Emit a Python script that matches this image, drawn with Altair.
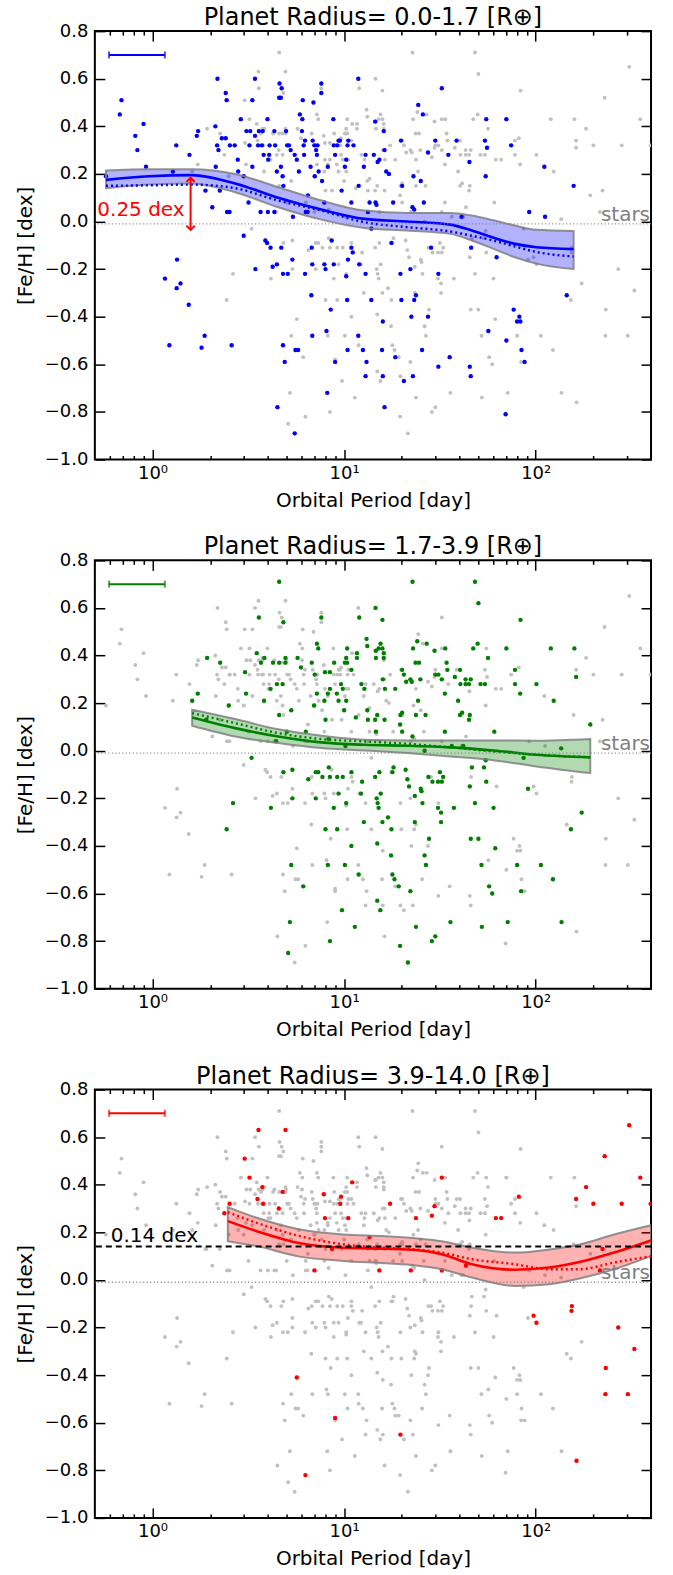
import altair as alt
import numpy as np
import pandas as pd

FONT = "DejaVu Sans"

# ---------------- data: (log10 orbital period [day], [Fe/H] [dex]) ----------------
# planets with radius 0.0-1.7 R_earth (blue, top panel)
blue_points = [
    (-0.243, 0.19), (-0.162, 0.51), (-0.171, 0.45), (-0.09, 0.36), (-0.079, 0.30), (-0.047, 0.41),
    (-0.034, 0.23), (0.106, 0.21), (0.124, 0.32), (0.193, 0.28), (0.231, 0.36), (0.238, 0.38),
    (0.276, 0.13), (0.312, 0.06), (0.328, 0.40), (0.337, 0.32), (0.344, 0.30), (0.33, 0.23),
    (0.339, 0.60), (0.351, 0.13), (0.362, 0.35), (0.382, 0.35), (0.382, 0.54), (0.387, 0.51),
    (0.389, 0.04), (0.402, 0.04), (0.404, 0.32), (0.429, 0.32), (0.445, 0.26), (0.447, 0.21),
    (0.461, 0.43), (0.476, 0.19), (0.49, 0.38), (0.501, 0.08), (0.51, 0.38), (0.506, 0.32),
    (0.521, 0.51), (0.521, 0.23), (0.535, 0.60), (0.535, 0.36), (0.551, 0.32), (0.555, 0.38),
    (0.571, 0.32), (0.575, 0.38), (0.58, 0.28), (0.564, 0.04), (0.6, 0.43), (0.602, 0.04),
    (0.604, 0.26), (0.609, 0.28), (0.611, 0.32), (0.636, 0.04), (0.636, 0.38), (0.64, 0.32),
    (0.649, 0.21), (0.663, 0.58), (0.661, 0.52), (0.67, 0.52), (0.674, 0.56), (0.67, 0.23),
    (0.679, 0.19), (0.683, 0.15), (0.697, 0.38), (0.703, 0.32), (0.712, 0.32), (0.721, 0.30),
    (0.733, 0.02), (0.742, 0.28), (0.753, 0.26), (0.764, 0.21), (0.769, 0.45), (0.78, 0.38),
    (0.784, 0.51), (0.782, 0.43), (0.789, 0.32), (0.791, 0.28), (0.796, 0.34), (0.8, 0.04),
    (0.809, 0.04), (0.811, 0.11), (0.825, 0.23), (0.836, 0.34), (0.84, 0.50), (0.845, 0.32),
    (0.847, 0.19), (0.854, 0.30), (0.858, 0.28), (0.861, 0.32), (0.867, 0.21), (0.881, 0.58),
    (0.881, 0.54), (0.885, 0.17), (0.897, 0.08), (0.915, 0.23), (0.944, 0.43), (0.946, 0.32),
    (0.953, 0.28), (0.964, 0.32), (0.971, 0.34), (0.978, 0.34), (0.987, 0.13), (1.004, 0.23),
    (1.011, 0.26), (1.018, 0.32), (1.022, 0.34), (1.038, 0.08), (1.049, 0.32), (1.074, 0.60),
    (1.076, 0.15), (1.103, 0.23), (1.112, 0.28), (1.124, 0.04), (1.133, 0.08), (1.142, -0.03),
    (1.155, 0.28), (1.162, 0.42), (1.164, 0.08), (1.169, 0.07), (1.175, 0.25), (1.184, 0.26),
    (1.207, 0.38), (1.211, 0.30), (1.22, 0.21), (1.234, 0.20), (1.256, 0.08), (1.297, 0.34),
    (1.303, 0.15), (1.357, 0.06), (1.362, 0.19), (1.366, 0.05), (1.387, 0.49), (1.4, 0.17),
    (1.411, 0.45), (1.416, 0.08), (1.438, 0.29), (1.476, 0.34), (1.51, 0.56), (1.544, 0.28),
    (1.587, 0.34), (1.613, 0.02), (1.654, 0.25), (1.735, 0.34), (1.742, 0.43), (1.746, 0.31),
    (1.739, 0.19), (1.847, 0.43), (1.872, 0.32), (1.966, 0.04), (2.045, 0.23), (2.049, 0.02),
    (2.198, 0.15),
    (0.128, -0.16), (0.476, -0.06), (0.589, -0.08), (0.598, -0.09), (0.616, -0.11), (0.672, -0.11),
    (0.73, -0.16), (0.831, -0.11), (0.935, -0.08), (1.02, -0.16), (1.038, -0.11), (1.045, -0.13),
    (1.247, -0.09), (1.454, -0.11), (1.663, -0.11), (1.796, -0.15),
    (0.065, -0.24), (0.088, -0.52), (0.126, -0.28), (0.146, -0.26), (0.189, -0.35), (0.256, -0.53),
    (0.272, -0.48), (0.413, -0.52), (0.537, -0.20), (0.627, -0.19), (0.649, -0.18), (0.652, -0.78),
    (0.681, -0.22), (0.706, -0.22), (0.681, -0.52), (0.69, -0.59), (0.742, -0.89), (0.746, -0.54),
    (0.76, -0.54), (0.796, -0.22), (0.829, -0.31), (0.834, -0.18), (0.834, -0.48), (0.897, -0.18),
    (0.903, -0.20), (0.908, -0.46), (0.912, -0.72), (0.93, -0.37), (0.946, -0.18), (0.953, -0.59),
    (1.011, -0.23), (1.016, -0.33), (1.018, -0.54), (1.074, -0.48), (1.079, -0.18), (1.098, -0.54),
    (1.112, -0.22), (1.117, -0.59), (1.112, -0.65), (1.142, -0.33), (1.202, -0.42), (1.198, -0.54),
    (1.202, -0.65), (1.211, -0.78), (1.267, -0.57), (1.294, -0.22), (1.299, -0.33), (1.312, -0.67),
    (1.346, -0.20), (1.351, -0.40), (1.359, -0.65), (1.366, -0.33), (1.375, -0.31), (1.407, -0.54),
    (1.438, -0.40), (1.492, -0.22), (1.492, -0.61), (1.551, -0.57), (1.656, -0.61), (1.661, -0.65),
    (1.753, -0.46), (1.843, -0.81), (1.847, -0.50), (1.885, -0.37), (1.903, -0.42), (1.915, -0.40),
    (1.92, -0.42), (1.926, -0.54), (1.942, -0.59), (2.162, -0.31),
]

# planets with radius 1.7-3.9 R_earth (green, middle panel)
green_points = [
    (0.661, 0.71), (1.357, 0.71), (1.683, 0.71), (1.701, 0.62), (1.164, 0.60), (0.555, 0.56),
    (0.881, 0.56), (1.079, 0.56), (0.683, 0.54), (1.2, 0.55), (1.921, 0.55), (1.117, 0.47),
    (1.121, 0.44), (1.19, 0.45), (1.2, 0.43), (1.207, 0.41), (1.18, 0.43), (0.858, 0.45),
    (0.865, 0.43), (1.016, 0.43), (1.36, 0.43), (1.382, 0.46), (1.431, 0.45), (1.472, 0.42),
    (1.528, 0.43), (1.674, 0.43), (1.697, 0.45), (1.847, 0.43), (2.079, 0.43), (2.202, 0.43),
    (2.211, 0.31), (0.285, 0.39), (0.353, 0.37), (0.483, 0.33), (0.544, 0.41), (0.584, 0.39),
    (0.566, 0.37), (0.629, 0.37), (0.661, 0.37), (0.694, 0.39), (0.757, 0.39), (0.694, 0.37),
    (0.775, 0.35), (0.831, 0.37), (0.847, 0.32), (0.9, 0.33), (0.926, 0.33), (0.948, 0.37),
    (1.004, 0.37), (1.016, 0.37), (1.011, 0.39), (1.067, 0.39), (1.067, 0.41), (1.038, 0.34),
    (1.166, 0.42), (1.207, 0.39), (1.166, 0.39), (1.303, 0.34), (1.312, 0.32), (1.324, 0.29),
    (1.346, 0.30), (1.353, 0.29), (1.373, 0.37), (1.391, 0.37), (1.398, 0.30), (1.476, 0.32),
    (1.492, 0.32), (1.51, 0.30), (1.535, 0.37), (1.539, 0.34), (1.578, 0.31), (1.605, 0.34),
    (1.607, 0.28), (1.634, 0.30), (1.661, 0.30), (1.634, 0.28), (1.652, 0.28), (1.712, 0.28),
    (1.735, 0.28), (1.751, 0.39), (1.892, 0.34), (1.892, 0.28), (2.004, 0.28), (2.094, 0.21),
    (1.919, 0.24), (0.236, 0.24), (0.207, 0.21), (0.398, 0.19), (0.488, 0.24), (0.582, 0.21),
    (0.616, 0.26), (0.649, 0.28), (0.679, 0.28), (0.661, 0.15), (0.724, 0.17), (0.843, 0.19),
    (0.858, 0.24), (0.897, 0.21), (0.926, 0.26), (0.915, 0.24), (0.962, 0.24), (0.984, 0.28),
    (0.993, 0.26), (1.0, 0.17), (0.903, 0.13), (0.971, 0.21), (1.011, 0.21), (1.09, 0.28),
    (1.106, 0.26), (1.121, 0.17), (1.061, 0.14), (1.124, 0.13), (1.162, 0.13), (1.173, 0.15),
    (1.213, 0.26), (1.267, 0.26), (1.202, 0.30), (1.211, 0.13), (1.166, 0.08), (1.294, 0.15),
    (1.303, 0.16), (1.292, 0.11), (1.303, 0.08), (1.357, 0.06), (1.375, 0.15), (1.386, 0.21),
    (1.425, 0.15), (1.526, 0.24), (1.526, 0.08), (1.595, 0.21), (1.605, 0.15), (1.616, 0.16),
    (1.656, 0.15), (1.652, 0.13), (1.784, 0.08), (2.285, 0.11), (2.133, 0.01), (1.937, -0.03),
    (1.622, 0.02), (1.562, 0.02), (1.42, 0.00), (1.007, 0.02), (0.645, 0.04), (0.8, 0.08),
    (0.701, 0.08), (0.517, -0.03), (0.281, 0.13), (0.919, 0.05), (1.739, -0.04), (1.73, -0.07),
    (1.667, -0.07), (1.5, -0.09), (1.44, -0.11), (1.49, -0.13), (1.51, -0.13), (1.321, -0.08),
    (1.258, -0.07), (1.252, -0.09), (1.184, -0.09), (0.92, -0.07), (0.865, -0.09), (0.852, -0.09),
    (0.73, -0.08), (0.683, -0.09), (0.813, -0.12), (0.887, -0.11), (0.926, -0.11), (0.964, -0.11),
    (0.993, -0.11), (1.038, -0.09), (1.094, -0.13), (1.162, -0.11), (1.33, -0.12), (1.461, -0.13),
    (1.517, -0.11), (1.656, -0.15), (1.742, -0.13), (1.96, -0.16), (1.339, -0.15), (1.4, -0.16),
    (0.73, -0.20), (0.852, -0.20), (0.971, -0.18), (1.011, -0.22), (1.088, -0.18), (1.17, -0.20),
    (1.175, -0.22), (1.18, -0.24), (1.191, -0.18), (1.369, -0.19), (1.404, -0.17), (1.409, -0.22),
    (1.683, -0.22), (0.42, -0.22), (0.618, -0.24), (0.946, -0.24), (1.49, -0.24), (1.506, -0.26),
    (1.573, -0.24), (1.78, -0.24), (2.24, -0.26), (2.184, -0.33), (0.387, -0.33), (0.903, -0.33),
    (0.964, -0.33), (1.103, -0.30), (1.2, -0.30), (1.229, -0.28), (1.247, -0.33), (1.369, -0.30),
    (1.506, -0.30), (1.443, -0.37), (1.661, -0.37), (1.701, -0.37), (1.038, -0.40), (1.173, -0.39),
    (1.245, -0.44), (1.42, -0.44), (1.789, -0.41), (0.724, -0.48), (0.915, -0.48), (1.004, -0.48),
    (1.427, -0.48), (1.717, -0.48), (1.903, -0.48), (2.027, -0.48), (1.076, -0.52), (1.252, -0.52),
    (1.263, -0.54), (1.285, -0.57), (2.09, -0.54), (0.787, -0.57), (1.757, -0.57), (1.773, -0.60),
    (1.924, -0.59), (1.346, -0.59), (1.173, -0.63), (1.189, -0.67), (0.989, -0.67), (0.717, -0.72),
    (1.056, -0.74), (1.375, -0.74), (1.555, -0.72), (1.719, -0.74), (1.854, -0.72), (2.135, -0.72),
    (0.926, -0.80), (1.458, -0.80), (1.476, -0.78), (1.292, -0.82), (0.708, -0.85), (1.333, -0.89),
]

# planets with radius 3.9-14.0 R_earth (red, bottom panel)
red_points = [
    (0.553, 0.63), (0.694, 0.63), (0.481, 0.51), (0.506, 0.43), (0.573, 0.39), (0.679, 0.37),
    (0.548, 0.34), (0.578, 0.32), (0.402, 0.32), (0.659, 0.30), (0.375, 0.28), (0.894, 0.36),
    (0.984, 0.35), (1.042, 0.41), (0.98, 0.32), (0.9, 0.26), (1.022, 0.26), (1.133, 0.18),
    (1.24, 0.32), (1.375, 0.26), (1.458, 0.27), (1.472, 0.31), (1.51, 0.43), (1.792, 0.26),
    (1.82, 0.26), (1.912, 0.35), (2.488, 0.65), (2.36, 0.52), (2.546, 0.43), (2.263, 0.39),
    (2.211, 0.34), (2.301, 0.32), (2.449, 0.32), (2.6, 0.32), (2.349, 0.13), (2.335, 0.04),
    (1.636, 0.06), (1.51, 0.04), (1.348, 0.04), (1.184, 0.04), (0.845, 0.04), (0.937, 0.13),
    (2.189, -0.11), (2.187, -0.13), (1.989, -0.15), (2.004, -0.18), (2.431, -0.20), (2.515, -0.29),
    (2.366, -0.37), (2.364, -0.48), (2.481, -0.48), (2.213, -0.76), (0.753, -0.41), (0.953, -0.58),
    (1.294, -0.65), (0.798, -0.82),
]

# running-mean trends: log10 period, mean, lower/upper band, dotted comparison curve
blue_curve_logp = [-0.243, -0.018, 0.207, 0.431, 0.656, 0.881, 1.106, 1.33, 1.555, 1.667, 1.78, 1.892, 2.004, 2.198]
blue_mid = [0.175, 0.19, 0.195, 0.16, 0.10, 0.05, 0.011, 0.0, -0.013, -0.038, -0.068, -0.094, -0.108, -0.116]
blue_hi = [0.214, 0.22, 0.22, 0.2, 0.144, 0.088, 0.046, 0.036, 0.036, 0.025, 0.005, -0.017, -0.035, -0.04]
blue_lo = [0.14, 0.155, 0.16, 0.123, 0.06, 0.008, -0.027, -0.038, -0.052, -0.08, -0.115, -0.15, -0.177, -0.2]
blue_dot = [0.15, 0.152, 0.155, 0.14, 0.088, 0.046, -0.003, -0.024, -0.042, -0.06, -0.08, -0.105, -0.128, -0.147]

green_curve_logp = [0.207, 0.431, 0.656, 0.881, 1.106, 1.33, 1.555, 1.78, 2.004, 2.285]
green_mid = [0.14, 0.095, 0.06, 0.035, 0.025, 0.021, 0.014, 0.001, -0.017, -0.028]
green_hi = [0.172, 0.133, 0.09, 0.063, 0.046, 0.043, 0.043, 0.043, 0.042, 0.049]
green_lo = [0.105, 0.06, 0.032, 0.011, 0.001, -0.01, -0.024, -0.04, -0.066, -0.094]
green_dot = [0.158, 0.116, 0.074, 0.049, 0.039, 0.029, 0.014, -0.003, -0.017, -0.027]

red_curve_logp = [0.393, 0.544, 0.769, 0.993, 1.218, 1.375, 1.51, 1.667, 1.892, 2.072, 2.229, 2.409, 2.602]
red_mid = [0.247, 0.205, 0.154, 0.135, 0.131, 0.126, 0.108, 0.066, 0.043, 0.052, 0.075, 0.115, 0.166]
red_hi = [0.306, 0.261, 0.212, 0.191, 0.184, 0.175, 0.163, 0.135, 0.115, 0.128, 0.149, 0.191, 0.23]
red_lo = [0.163, 0.142, 0.098, 0.08, 0.07, 0.061, 0.045, 0.01, -0.025, -0.018, 0.006, 0.045, 0.1]
red_dot = [0.285, 0.24, 0.184, 0.15, 0.135, 0.128, 0.115, 0.087, 0.066, 0.045, 0.045, 0.073, 0.1]

titles = ["Planet Radius= 0.0-1.7 [R\u2295]", "Planet Radius= 1.7-3.9 [R\u2295]", "Planet Radius= 3.9-14.0 [R\u2295]"]
colors = ["#0000ff", "#008000", "#ff0000"]
stars_feh = -0.01          # stellar sample mean
errbar_period = [0.593, 1.16]
errbar_feh = 0.70
arrow_period = 1.58
arrow_feh = [-0.035, 0.184]
arrow_label = "0.25 dex"
giant_level = 0.14
giant_label = "0.14 dex"

x_major = [1, 10, 100]
x_minor = [0.6, 0.7, 0.8, 0.9, 2, 3, 4, 5, 6, 7, 8, 9, 20, 30, 40, 50, 60, 70, 80, 90, 200, 300]
y_ticks = [-1.0, -0.8, -0.6, -0.4, -0.2, 0.0, 0.2, 0.4, 0.6, 0.8]

# ---------------- tables ----------------
def pts_frame(pts, k):
    arr = np.array(pts)
    return pd.DataFrame({"period": 10 ** arr[:, 0], "feh": arr[:, 1], "cls": k})

points = pd.concat([pts_frame(blue_points, 0), pts_frame(green_points, 1), pts_frame(red_points, 2)],
                   ignore_index=True)

curves = [
    (blue_curve_logp, blue_mid, blue_lo, blue_hi, blue_dot),
    (green_curve_logp, green_mid, green_lo, green_hi, green_dot),
    (red_curve_logp, red_mid, red_lo, red_hi, red_dot),
]

W, H = 557, 429
xscale = alt.Scale(type="log", domain=[0.5, 400], nice=False)
yscale = alt.Scale(domain=[-1.0, 0.8], nice=False, zero=False)

ax_bottom = alt.Axis(orient="bottom", values=x_major, tickSize=10, offset=-10, domain=False, grid=False,
                     labelExpr="datum.value == 1 ? '10\u2070' : datum.value == 10 ? '10\u00b9' : '10\u00b2'",
                     labelFontSize=18, labelPadding=5, labelFlush=False, title="Orbital Period [day]",
                     titleFontSize=20, titlePadding=8)
ax_bottom_minor = alt.Axis(orient="bottom", values=x_minor, tickSize=4, offset=-4, domain=False, grid=False,
                           labels=False, title=None)
ax_top = alt.Axis(orient="top", values=x_major, tickSize=10, offset=-10, domain=False, grid=False,
                  labels=False, title=None)
ax_top_minor = alt.Axis(orient="top", values=x_minor, tickSize=4, offset=-4, domain=False, grid=False,
                        labels=False, title=None)
ax_left = alt.Axis(orient="left", values=y_ticks, tickSize=10, offset=-10, domain=False, grid=False,
                   labelExpr="replace(format(datum.value, '.1f'), '-', '\u2212')", labelFontSize=18,
                   labelPadding=7, labelFlush=False, title="[Fe/H] [dex]", titleFontSize=20, titlePadding=9)
ax_right = alt.Axis(orient="right", values=y_ticks, tickSize=10, offset=-10, domain=False, grid=False,
                    labels=False, title=None)


def panel(k):
    color = colors[k]
    lp, mid, lo, hi, dot = curves[k]
    cdf = pd.DataFrame({"period": 10 ** np.array(lp), "mid": mid, "lo": lo, "hi": hi, "dot": dot})

    gray = alt.Chart(points).mark_circle(size=15, color="#c0c0c0", opacity=1, clip=True).encode(
        x=alt.X("period:Q", scale=xscale, axis=ax_bottom),
        y=alt.Y("feh:Q", scale=yscale, axis=ax_left),
    )
    col = alt.Chart(points).transform_filter(alt.datum.cls == k).mark_circle(
        size=19, color=color, opacity=1, clip=True).encode(
        x=alt.X("period:Q", scale=xscale, axis=ax_top),
        y=alt.Y("feh:Q", scale=yscale, axis=ax_right),
    )
    band = alt.Chart(cdf).mark_area(fill=color, fillOpacity=0.3, stroke="#808080", strokeOpacity=0.85,
                                    strokeWidth=2, interpolate="monotone", clip=True).encode(
        x=alt.X("period:Q", scale=xscale, axis=ax_bottom_minor),
        y=alt.Y("lo:Q", scale=yscale, axis=None),
        y2="hi:Q",
    )
    solid = alt.Chart(cdf).mark_line(color=color, strokeWidth=2.6, interpolate="monotone", clip=True).encode(
        x=alt.X("period:Q", scale=xscale, axis=ax_top_minor),
        y=alt.Y("mid:Q", scale=yscale, axis=None),
    )
    dotted = alt.Chart(cdf).mark_line(color=color, strokeWidth=2.4, strokeDash=[2, 3],
                                      interpolate="monotone", clip=True).encode(
        x=alt.X("period:Q", scale=xscale, axis=None),
        y=alt.Y("dot:Q", scale=yscale, axis=None),
    )
    sdf = pd.DataFrame({"y": [stars_feh], "x": [400.0], "ty": [0.002], "label": ["stars"]})
    stars_rule = alt.Chart(sdf).mark_rule(color="#808080", strokeWidth=1.4, strokeDash=[1, 2.5]).encode(
        y=alt.Y("y:Q", scale=yscale, axis=None))
    stars_text = alt.Chart(sdf).mark_text(align="right", baseline="alphabetic", font=FONT, fontSize=20,
                                          color="#808080", dx=-1).encode(
        x=alt.X("x:Q", scale=xscale, axis=None), y=alt.Y("ty:Q", scale=yscale, axis=None), text="label:N")
    edf = pd.DataFrame({"x1": [errbar_period[0]], "x2": [errbar_period[1]], "y": [errbar_feh]})
    err = alt.Chart(edf).mark_rule(color=color, strokeWidth=2).encode(
        x=alt.X("x1:Q", scale=xscale, axis=None), x2="x2:Q", y=alt.Y("y:Q", scale=yscale, axis=None))
    cdf2 = pd.DataFrame({"x": errbar_period, "y": [errbar_feh, errbar_feh]})
    caps = alt.Chart(cdf2).mark_tick(color=color, orient="vertical", size=7, thickness=2).encode(
        x=alt.X("x:Q", scale=xscale, axis=None), y=alt.Y("y:Q", scale=yscale, axis=None))

    layers = [gray, col, band, solid, dotted, stars_rule, stars_text, err, caps]

    if k == 0:
        adf = pd.DataFrame({"x": [arrow_period], "y1": [arrow_feh[0]], "y2": [arrow_feh[1]]})
        arrow = alt.Chart(adf).mark_rule(color="#ff0000", strokeWidth=2).encode(
            x=alt.X("x:Q", scale=xscale, axis=None), y=alt.Y("y1:Q", scale=yscale, axis=None), y2="y2:Q")
        head_up = alt.Chart(adf).mark_point(shape="M-1,1L0,0L1,1", filled=False, size=70, color="#ff0000",
                                            strokeWidth=2, opacity=1).encode(
            x=alt.X("x:Q", scale=xscale, axis=None), y=alt.Y("y2:Q", scale=yscale, axis=None))
        head_dn = alt.Chart(adf).mark_point(shape="M-1,-1L0,0L1,-1", filled=False, size=70, color="#ff0000",
                                            strokeWidth=2, opacity=1).encode(
            x=alt.X("x:Q", scale=xscale, axis=None), y=alt.Y("y1:Q", scale=yscale, axis=None))
        tdf = pd.DataFrame({"x": [1.47], "y": [0.024], "label": [arrow_label]})
        atext = alt.Chart(tdf).mark_text(align="right", baseline="alphabetic", font=FONT, fontSize=20,
                                         color="#ff0000").encode(
            x=alt.X("x:Q", scale=xscale, axis=None), y=alt.Y("y:Q", scale=yscale, axis=None), text="label:N")
        layers += [arrow, head_up, head_dn, atext]
    if k == 2:
        gdf = pd.DataFrame({"y": [giant_level], "x": [0.605], "ty": [0.158], "label": [giant_label]})
        grule = alt.Chart(gdf).mark_rule(color="black", strokeWidth=2, strokeDash=[6, 4]).encode(
            y=alt.Y("y:Q", scale=yscale, axis=None))
        gtext = alt.Chart(gdf).mark_text(align="left", baseline="alphabetic", font=FONT, fontSize=20,
                                         color="black").encode(
            x=alt.X("x:Q", scale=xscale, axis=None), y=alt.Y("ty:Q", scale=yscale, axis=None), text="label:N")
        layers += [grule, gtext]

    return alt.layer(*layers).properties(
        width=W, height=H,
        title=alt.TitleParams(titles[k], fontSize=24, font=FONT, fontWeight="normal", color="black",
                              anchor="middle", frame="group", offset=-8),
    )


chart = alt.vconcat(panel(0), panel(1), panel(2), spacing=101, bounds="flush").properties(
    padding={"left": 14, "top": 4, "right": 20, "bottom": 2}
).configure_view(stroke="black", strokeWidth=2).configure_axis(
    labelFont=FONT, titleFont=FONT, labelColor="black", titleColor="black", titleFontWeight="normal",
    tickColor="black", tickWidth=1.5, grid=False,
)

chart.save("out.html", embed_options={"renderer": "svg", "actions": False})
